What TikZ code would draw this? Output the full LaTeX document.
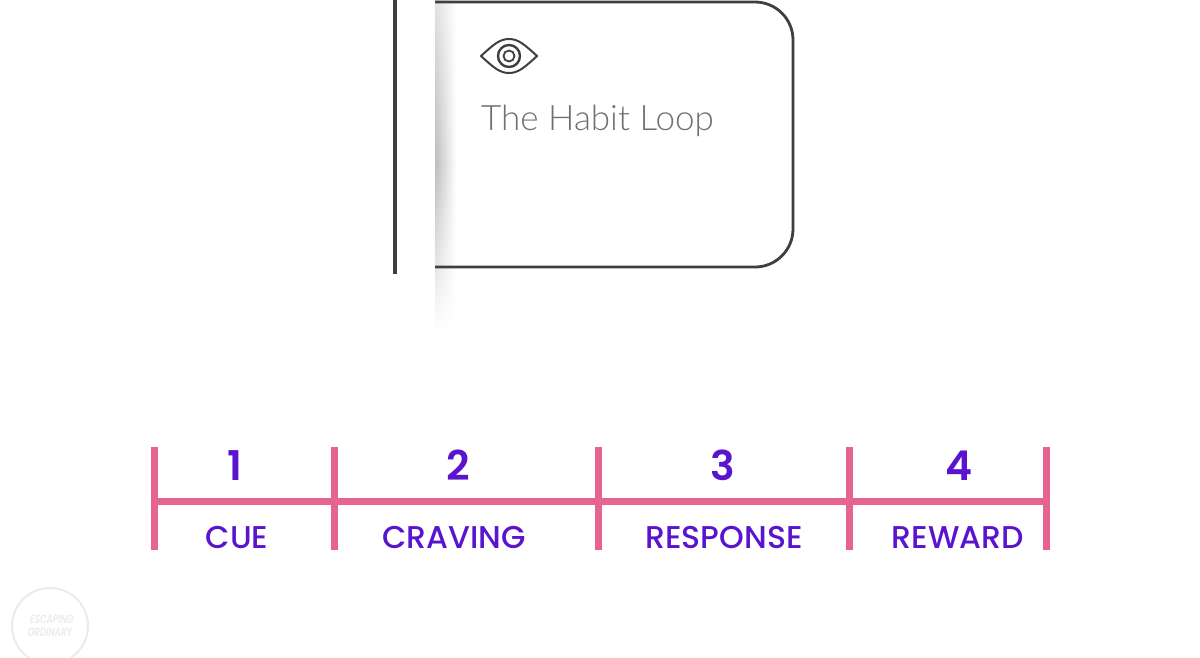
\documentclass[tikz,border=0pt]{standalone}
\usepackage{fontspec}
\setmainfont{Poppins}
\newfontfamily\labelfont{Poppins Medium}
\newfontfamily\numfont{Poppins SemiBold}
\newfontfamily\cardfont{Lato Light}
\usetikzlibrary{fadings}
\definecolor{pinkbar}{HTML}{E7648F}
\definecolor{purp}{HTML}{5A14CE}
\definecolor{ink}{HTML}{3F3F3F}
\definecolor{cardtext}{HTML}{707070}
\definecolor{wm}{HTML}{EBEBEB}
\tikzfading[name=shadowfade, top color=transparent!55, bottom color=transparent!100, middle color=transparent!0]
\tikzset{
  tick/.style={draw=pinkbar, line width=7pt},
  axis/.style={draw=pinkbar, line width=7pt},
  num/.style={text=purp, font=\numfont\fontsize{41}{41}\selectfont, inner sep=0pt, anchor=base},
  lab/.style={text=purp, font=\labelfont\fontsize{31.5}{31.5}\selectfont, inner sep=0pt, anchor=base},
  outline/.style={draw=ink, line width=2.8pt},
  eyeline/.style={draw=ink, line width=2pt},
}
\begin{document}
\begin{tikzpicture}[x=1pt,y=-1pt]
\useasboundingbox (0,0) rectangle (1200,657);
% shadow
\shade[left color=black!26, right color=white, path fading=shadowfade] (435,0) rectangle (456,330);
% bar and card
\draw[outline, line width=3.6pt] (395,-2) -- (395,274);
\draw[outline, rounded corners=38pt] (435,2) -- (793,2) -- (793,267) -- (435,267);
% eye
\draw[eyeline] (481,56) .. controls (494,44) and (500,39) .. (509,39) .. controls (518,39) and (524,44) .. (537,56)
  .. controls (524,68) and (518,73) .. (509,73) .. controls (500,73) and (494,68) .. (481,56) -- cycle;
\draw[eyeline, line width=2.4pt] (509,56) circle[radius=11];
\draw[eyeline, line width=1.8pt] (509,56) circle[radius=5.5];
\node[text=cardtext, font=\cardfont\fontsize{35}{35}\selectfont, inner sep=0pt, anchor=base west] (title) at (481,130) {The Habit Loop};
% timeline
\coordinate (atop) at (154,447); \coordinate (amid) at (154,501); \coordinate (abot) at (154,550);
\coordinate (btop) at (334,447); \coordinate (bbot) at (334,550);
\coordinate (ctop) at (598,447); \coordinate (cbot) at (598,550);
\coordinate (dtop) at (849,447); \coordinate (dbot) at (849,550);
\coordinate (etop) at (1046,447); \coordinate (emid) at (1046,501); \coordinate (ebot) at (1046,550);
\draw[tick] (atop) -- (abot);
\draw[tick] (btop) -- (bbot);
\draw[tick] (ctop) -- (cbot);
\draw[tick] (dtop) -- (dbot);
\draw[tick] (etop) -- (ebot);
\draw[axis] (amid) -- (emid);
\node[num] (n1) at (235,480) {1};
\node[num] (n2) at (458,480) {2};
\node[num] (n3) at (723,480) {3};
\node[num] (n4) at (959,480) {4};
\node[lab] (l1) at (237,548) {CUE};
\node[lab] (l2) at (454,548) {CRAVING};
\node[lab] (l3) at (724,548) {RESPONSE};
\node[lab] (l4) at (958,548) {REWARD};
% watermark
\draw[wm, line width=2pt] (50,626) circle[radius=38];
\node[text=wm, font=\numfont\fontsize{12}{13}\selectfont, inner sep=0pt, align=center, xslant=0.15, xscale=0.72] (wmk) at (51,626) {ESCAPING\\ORDINARY};
\end{tikzpicture}
\end{document}
